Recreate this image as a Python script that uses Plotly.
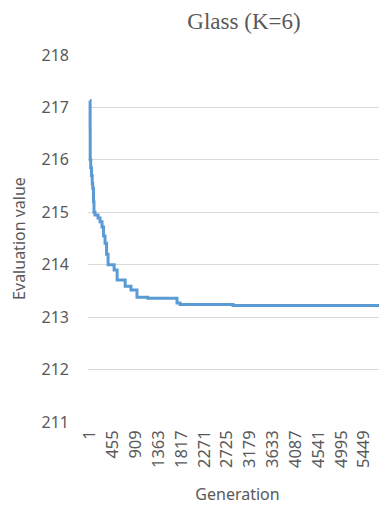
import plotly.graph_objects as go

# Data (best-so-far evaluation value per generation)
generations = [1, 3, 5, 15, 30, 45, 55, 70, 80, 100, 160, 200, 240, 270, 300, 330, 360,
               480, 540, 700, 815, 935, 1150, 1730, 1790, 2845, 6000]
eval_values = [217.13, 216.6, 216.0, 215.85, 215.7, 215.55, 215.46, 215.2, 215.0, 214.95,
               214.89, 214.82, 214.72, 214.55, 214.41, 214.2, 214.0, 213.9, 213.71, 213.59,
               213.52, 213.38, 213.36, 213.27, 213.24, 213.22, 213.22]
x_ticks = [1, 455, 909, 1363, 1817, 2271, 2725, 3179, 3633, 4087, 4541, 4995, 5449]
y_ticks = [211, 212, 213, 214, 215, 216, 217, 218]

grey = "#595959"
font_family = "Noto Sans, DejaVu Sans, sans-serif"

# the page body has an 8px default margin, so the figure is 8px smaller
W, H = 379, 499

fig = go.Figure()
fig.add_trace(go.Scatter(
    x=generations, y=eval_values, mode="lines", line_shape="hv",
    line=dict(color="#5B9BD5", width=3), showlegend=False, hoverinfo="skip"))

fig.update_layout(
    width=W, height=H,
    margin=dict(l=80, r=0, t=47, b=85, autoexpand=False),
    paper_bgcolor="white", plot_bgcolor="white",
    title=dict(text="Glass (K=6)", x=236/W, xanchor="center", xref="container",
               y=1 - 13/H, yanchor="middle", yref="container",
               font=dict(family="Liberation Serif, Times New Roman, serif", size=23, color=grey)),
    xaxis=dict(
        range=[-39, 5905], tickmode="array", tickvals=x_ticks,
        ticktext=[str(v) for v in x_ticks], tickangle=-90, automargin=False,
        showgrid=False, zeroline=False, showline=False, ticks="",
        ticklabelstandoff=4,
        tickfont=dict(family=font_family, size=16.5, color=grey),
        title=dict(text="Generation", standoff=21,
                   font=dict(family=font_family, size=16, color=grey))),
    yaxis=dict(
        range=[211, 218], tickmode="array", tickvals=y_ticks, automargin=False,
        showgrid=True, gridcolor="#D9D9D9", gridwidth=1, zeroline=False, showline=False,
        ticks="", ticklabelstandoff=18,
        tickfont=dict(family=font_family, size=16, color=grey),
        title=dict(text="Evaluation value", standoff=11,
                   font=dict(family=font_family, size=16, color=grey))),
)

fig.write_html("out.html")
